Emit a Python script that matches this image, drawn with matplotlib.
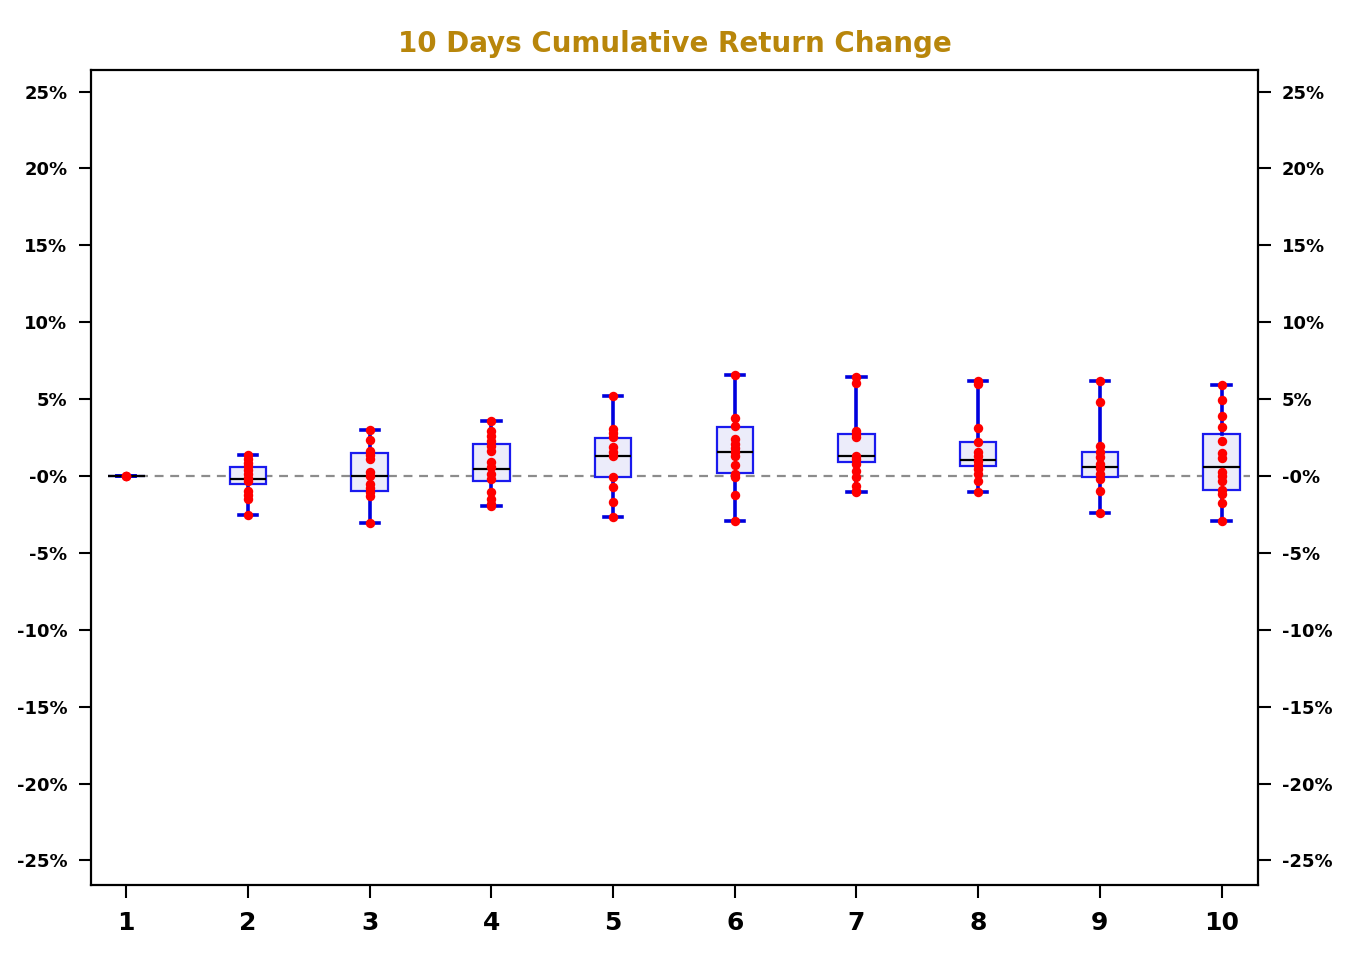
import matplotlib
matplotlib.use("Agg")
import matplotlib.pyplot as plt

# daily cumulative return samples (%)
days = [1, 2, 3, 4, 5, 6, 7, 8, 9, 10]
points = [
    [-0.02, -0.02, -0.02],
    [1.34, 1.1, 0.84, 0.63, 0.39, 0.13, -0.11, -0.3, -0.95, -1.23, -1.49, -2.53],
    [2.97, 2.32, 1.64, 1.36, 1.1, 0.24, 0.02, -0.52, -0.8, -1.06, -1.32, -3.07],
    [3.55, 2.94, 2.62, 2.29, 1.97, 1.64, 0.89, 0.56, 0.13, -0.2, -1.06, -1.49, -1.82, -1.95],
    [5.17, 3.05, 2.79, 2.51, 1.86, 1.58, 1.32, -0.09, -0.74, -1.71, -2.68],
    [6.56, 3.74, 3.27, 2.40, 2.08, 1.80, 1.54, 1.28, 0.71, 0.13, -0.09, -1.23, -2.90],
    [6.45, 6.04, 2.94, 2.73, 2.51, 1.32, 1.10, 0.78, 0.35, -0.09, -0.63, -0.95, -1.06],
    [6.15, 5.97, 3.09, 2.19, 1.54, 1.28, 1.0, 0.71, 0.45, 0.13, -0.3, -1.06],
    [6.15, 4.78, 1.97, 1.54, 1.21, 0.78, 0.50, 0.13, -0.2, -0.99, -2.42],
    [5.91, 4.91, 3.87, 3.16, 2.29, 1.47, 1.15, 0.24, -0.02, -0.3, -0.89, -1.17, -1.75, -2.94],
]
q1 = [-0.02, -0.54, -0.95, -0.30, -0.09, 0.17, 0.89, 0.63, -0.09, -0.91]
med = [-0.02, -0.19, -0.02, 0.45, 1.28, 1.54, 1.28, 1.06, 0.56, 0.56]
q3 = [-0.02, 0.58, 1.49, 2.08, 2.47, 3.16, 2.71, 2.21, 1.56, 2.73]

yticks = [-25, -20, -15, -10, -5, 0, 5, 10, 15, 20, 25]
ytick_labels = ['-25%', '-20%', '-15%', '-10%', '-5%', '-0%', '5%', '10%', '15%', '20%', '25%']

stats = []
for i in range(len(days)):
    stats.append({'q1': q1[i], 'med': med[i], 'q3': q3[i],
                  'whislo': min(points[i]), 'whishi': max(points[i]), 'fliers': []})

fig = plt.figure(figsize=(13.5, 9.75), dpi=100)
ax = fig.add_axes([0.0674, 0.0923, 0.8645, 0.8359])

ax.hlines(0, 0.85, 10.23, colors='#8c8c8c', linestyles=(0, (4, 3)), linewidth=1.6, zorder=1)

ax.bxp(stats, positions=days, widths=0.30, patch_artist=True, showfliers=False,
       boxprops=dict(facecolor='#ececfa', edgecolor='#1a1aee', linewidth=1.6),
       whiskerprops=dict(color='#0000dd', linewidth=2.6),
       capprops=dict(color='#0000dd', linewidth=2.6),
       medianprops=dict(color='black', linewidth=1.6),
       capwidths=0.15, zorder=2)

for d, vals in zip(days, points):
    ax.plot([d] * len(vals), vals, 'o', color='#ff0000', markersize=6.8,
            markeredgewidth=0, zorder=3)

ax.set_xlim(0.71, 10.3)
ax.set_ylim(-26.6, 26.4)
ax.set_xticks(days)
ax.set_xticklabels([str(d) for d in days], fontsize=18, fontweight='bold')
ax.set_yticks(yticks)
ax.set_yticklabels(ytick_labels, fontsize=13, fontweight='bold')
ax.tick_params(axis='y', direction='out', length=9, width=1.5, right=True, labelright=True, pad=8)
ax.tick_params(axis='x', direction='out', length=9, width=1.5, pad=10)
for s in ax.spines.values():
    s.set_linewidth(1.6)

ax.set_title('10 Days Cumulative Return Change', fontsize=20, fontweight='bold',
             color='#b8860b', pad=13)

fig.savefig('out.png', dpi=100)
